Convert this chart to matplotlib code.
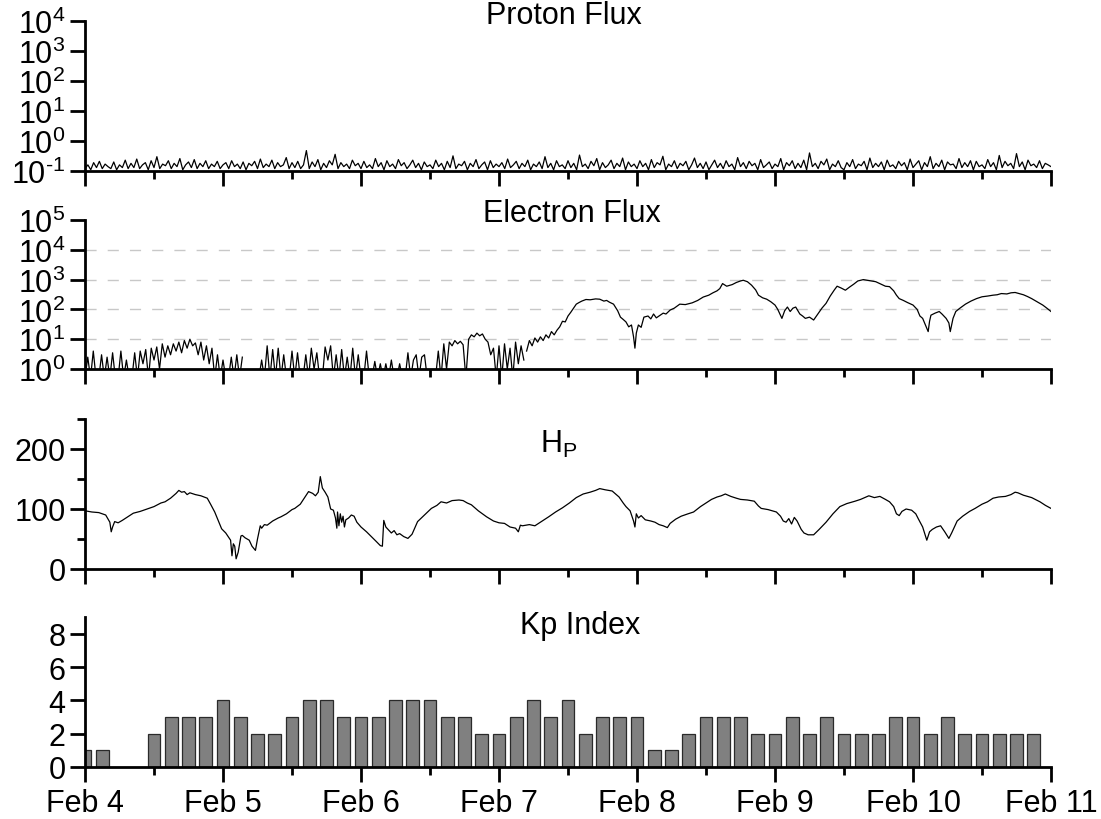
import numpy as np
import matplotlib
matplotlib.use("Agg")
import matplotlib.pyplot as plt
from matplotlib.ticker import LogLocator, FuncFormatter, MultipleLocator, FixedLocator, NullFormatter

plt.rcParams['font.family'] = ['Liberation Sans', 'DejaVu Sans']
plt.rcParams['mathtext.fontset'] = 'custom'
plt.rcParams['mathtext.rm'] = 'Liberation Sans'
plt.rcParams['mathtext.it'] = 'Liberation Sans:italic'
plt.rcParams['mathtext.bf'] = 'Liberation Sans:bold'
plt.rcParams['mathtext.sf'] = 'Liberation Sans'

# ---------------- data ----------------
day_labels = ["Feb 4", "Feb 5", "Feb 6", "Feb 7", "Feb 8", "Feb 9", "Feb 10", "Feb 11"]
panel_titles = ["Proton Flux", "Electron Flux", r"H$_\mathrm{P}$", "Kp Index"]

# proton flux, 30-min samples from Feb 4 00:00
proton_flux = [
    0.12,0.16,0.11,0.19,0.13,0.21,0.12,0.17,0.14,0.12,0.20,0.11,0.16,0.13,0.23,0.12,0.18,0.13,0.25,0.12,0.16,0.19,0.11,0.22,
    0.13,0.30,0.12,0.17,0.15,0.22,0.12,0.18,0.14,0.26,0.11,0.16,0.20,0.13,0.24,0.12,0.18,0.14,0.22,0.12,0.17,0.14,0.21,0.12,
    0.16,0.19,0.12,0.22,0.14,0.17,0.12,0.20,0.11,0.18,0.15,0.21,0.12,0.25,0.13,0.17,0.14,0.23,0.12,0.19,0.14,0.16,0.28,0.12,
    0.19,0.13,0.21,0.12,0.16,0.48,0.12,0.20,0.14,0.24,0.11,0.18,0.13,0.22,0.16,0.36,0.12,0.19,0.14,0.17,0.12,0.23,0.15,0.18,
    0.12,0.21,0.13,0.16,0.12,0.26,0.14,0.19,0.11,0.22,0.14,0.17,0.12,0.24,0.15,0.19,0.12,0.16,0.23,0.13,0.18,0.11,0.20,0.14,
    0.16,0.12,0.23,0.14,0.18,0.11,0.21,0.13,0.32,0.12,0.17,0.15,0.21,0.11,0.18,0.14,0.24,0.12,0.16,0.20,0.11,0.22,0.13,0.17,
    0.14,0.19,0.12,0.25,0.13,0.16,0.21,0.12,0.18,0.14,0.23,0.11,0.17,0.14,0.20,0.12,0.30,0.13,0.18,0.11,0.22,0.14,0.16,0.12,
    0.22,0.13,0.18,0.11,0.34,0.14,0.17,0.12,0.21,0.15,0.26,0.11,0.19,0.13,0.16,0.23,0.12,0.18,0.14,0.27,0.11,0.20,0.14,0.17,
    0.12,0.22,0.14,0.18,0.11,0.24,0.13,0.19,0.16,0.31,0.11,0.17,0.14,0.22,0.12,0.18,0.15,0.21,0.11,0.16,0.27,0.13,0.18,0.12,
    0.20,0.11,0.16,0.23,0.13,0.18,0.12,0.22,0.14,0.17,0.11,0.28,0.14,0.19,0.12,0.21,0.15,0.18,0.11,0.24,0.13,0.16,0.20,0.12,
    0.17,0.14,0.26,0.11,0.19,0.15,0.22,0.12,0.18,0.13,0.23,0.11,0.40,0.14,0.18,0.12,0.21,0.16,0.25,0.11,0.17,0.14,0.22,0.13,
    0.11,0.19,0.14,0.24,0.12,0.17,0.15,0.21,0.11,0.27,0.13,0.18,0.14,0.20,0.11,0.23,0.14,0.16,0.12,0.21,0.15,0.19,0.11,0.25,
    0.13,0.17,0.22,0.11,0.19,0.14,0.30,0.12,0.18,0.14,0.23,0.11,0.20,0.16,0.17,0.12,0.26,0.13,0.19,0.14,0.22,0.11,0.21,0.14,
    0.16,0.12,0.24,0.14,0.19,0.11,0.33,0.13,0.21,0.15,0.18,0.12,0.38,0.14,0.20,0.11,0.23,0.15,0.17,0.13,0.22,0.12,0.18,0.16,
    0.14]
proton_time = np.arange(len(proton_flux)) / 48.0

# electron flux, early noisy part (0.02-day samples, nan = no data)
nan = float('nan')
electron_early = [
    0.5,2.5,0.5,4.0,0.5,0.5,3.0,0.5,2.5,0.5,
    3.5,0.5,0.5,4.0,0.5,2.0,0.5,0.5,3.5,0.5,
    4.0,1.5,4.5,0.5,5.0,2.0,5.5,1.0,7.0,2.5,
    6.0,3.0,7.0,4.0,8.0,3.5,9.0,5.0,10.0,6.0,
    7.5,3.0,8.0,2.0,6.0,1.5,5.0,0.5,3.0,0.5,
    2.0,0.5,0.5,2.5,0.5,3.0,0.5,2.5,nan,nan,
    nan,nan,nan,0.5,2.0,0.5,6.0,0.5,4.5,0.5,
    5.0,0.5,3.0,0.5,0.5,4.0,0.5,3.5,0.5,0.5,
    3.0,0.5,5.0,1.0,3.5,0.5,0.5,5.5,2.0,6.0,
    0.5,3.0,0.5,4.5,0.5,2.5,0.5,5.0,0.5,3.0,
    0.5,0.5,4.0,0.5,0.5,1.8,0.5,1.5,0.5,1.5,
    0.5,2.0,0.5,0.5,1.5,0.5,0.5,3.5,0.5,2.0,
    3.0,0.5,2.5,3.0,0.5,0.5,0.5,0.5,4.0,0.5,
    7.0,1.0,8.0,6.0,9.0,7.0,8.5,6.5,0.5,10.0,
    14.0,12.0,16.0,13.0,15.0,10.0,8.0,3.0,5.0,0.5,
    6.0,0.5,7.0,1.0,5.0,0.5,8.0,1.5,6.0,2.0]
electron_early_time = np.arange(len(electron_early)) * 0.02

electron_late_time = [
    3.20,3.22,3.24,3.26,3.28,3.30,3.32,3.34,3.36,3.38,3.40,3.42,3.44,3.46,3.48,3.50,3.52,3.54,3.56,3.58,
    3.60,3.63,3.66,3.70,3.73,3.76,3.78,3.80,3.83,3.86,3.88,3.90,3.92,3.94,3.96,3.975,3.985,3.995,4.01,4.03,
    4.05,4.08,4.10,4.12,4.14,4.17,4.19,4.21,4.24,4.27,4.31,4.35,4.40,4.44,4.48,4.52,4.55,4.58,4.60,4.62,
    4.65,4.69,4.72,4.75,4.77,4.80,4.83,4.86,4.88,4.91,4.94,4.97,5.00,5.02,5.05,5.07,5.09,5.11,5.13,5.15,
    5.18,5.20,5.22,5.25,5.28,5.31,5.34,5.37,5.40,5.43,5.45,5.48,5.51,5.54,5.57,5.60,5.64,5.67,5.70,5.73,
    5.77,5.80,5.83,5.86,5.88,5.90,5.93,5.96,6.00,6.03,6.05,6.07,6.09,6.11,6.12,6.13,6.16,6.19,6.21,6.24,
    6.26,6.27,6.29,6.31,6.34,6.38,6.42,6.46,6.50,6.54,6.58,6.61,6.64,6.68,6.71,6.74,6.77,6.80,6.83,6.86,
    6.90,6.94,6.97,7.00]
electron_late = [
    4,9,6,11,8,12,9,14,11,18,14,20,26,40,38,60,80,110,150,170,
    190,215,210,225,220,190,200,175,150,90,55,46,38,26,30,12,5,16,30,25,
    55,60,48,70,52,65,75,70,95,110,150,145,166,200,260,300,360,420,500,735,
    600,680,800,900,950,850,650,450,300,245,220,180,140,100,50,90,120,85,110,120,
    70,60,50,55,44,70,110,160,280,450,600,520,440,560,700,900,1000,950,900,850,
    700,600,580,420,300,230,200,170,140,100,60,50,30,18,40,64,75,85,70,50,
    35,18,50,85,110,150,190,230,265,280,300,310,340,330,360,370,340,310,270,230,
    180,140,110,85]

# H_P
hp_time = [
    0.00,0.05,0.10,0.15,0.18,0.19,0.20,0.215,0.24,0.27,0.31,0.35,0.40,0.45,0.50,0.55,0.58,0.62,0.66,0.68,
    0.70,0.72,0.74,0.76,0.80,0.84,0.886,0.91,0.94,0.97,0.99,1.02,1.04,1.055,1.065,1.075,1.085,1.095,1.11,1.13,
    1.14,1.16,1.19,1.21,1.235,1.25,1.27,1.28,1.30,1.32,1.36,1.40,1.42,1.46,1.50,1.52,1.56,1.60,1.62,1.65,
    1.67,1.69,1.705,1.72,1.74,1.76,1.78,1.80,1.815,1.825,1.83,1.84,1.85,1.86,1.87,1.88,1.89,1.91,1.93,1.95,
    1.97,2.00,2.04,2.08,2.11,2.14,2.155,2.165,2.18,2.20,2.22,2.24,2.26,2.28,2.31,2.34,2.37,2.41,2.46,2.51,
    2.55,2.58,2.62,2.66,2.71,2.74,2.77,2.80,2.85,2.91,2.96,3.00,3.04,3.08,3.12,3.14,3.155,3.17,3.22,3.26,
    3.30,3.36,3.41,3.46,3.51,3.56,3.61,3.66,3.70,3.73,3.77,3.82,3.87,3.90,3.92,3.95,3.975,3.985,3.995,4.01,
    4.03,4.06,4.10,4.13,4.16,4.19,4.22,4.24,4.28,4.32,4.37,4.41,4.46,4.50,4.54,4.58,4.61,4.64,4.68,4.72,
    4.75,4.80,4.85,4.88,4.90,4.95,5.01,5.04,5.06,5.08,5.10,5.12,5.14,5.16,5.19,5.21,5.24,5.28,5.32,5.37,
    5.42,5.47,5.52,5.58,5.62,5.68,5.72,5.76,5.80,5.83,5.86,5.88,5.90,5.92,5.95,5.99,6.02,6.04,6.07,6.09,
    6.10,6.12,6.14,6.17,6.20,6.23,6.26,6.28,6.32,6.36,6.41,6.45,6.50,6.54,6.58,6.62,6.67,6.71,6.74,6.76,
    6.80,6.86,6.92,6.96,7.00]
hp_value = [
    97,95,94,90,78,62,70,79,77,81,87,93,96,100,104,110,112,118,126,131,
    128,129,124,127,124,122,118,108,95,78,67,60,53,48,22,42,38,17,28,55,
    56,52,48,38,31,50,72,68,74,73,80,85,87,92,99,101,108,122,129,126,
    122,128,154,135,128,120,100,98,85,68,95,72,92,78,88,70,82,85,90,88,
    78,70,62,53,46,39,38,81,70,65,60,64,57,59,54,51,58,79,90,101,
    106,112,110,114,115,114,110,107,97,87,80,77,76,70,68,62,73,72,74,72,
    78,87,95,102,110,119,125,128,131,134,132,130,120,110,104,97,80,70,92,85,
    89,82,80,78,74,72,69,76,83,88,92,95,104,110,116,120,122,125,121,118,
    116,115,113,105,101,99,95,88,80,78,84,75,86,80,66,60,57,57,66,78,
    92,104,109,113,116,122,119,121,116,112,104,92,89,96,100,98,92,83,70,55,
    48,62,66,70,72,62,51,60,80,88,96,101,108,112,118,120,121,124,128,127,
    123,119,112,106,101]

# Kp index, 3-hour intervals (nan = missing)
kp_index = [1,1,nan,nan,2,3,3,3,4,3,2,2,3,4,4,3,3,3,4,4,4,3,3,2,2,3,4,3,4,2,3,3,3,1,1,2,
            3,3,3,2,2,3,2,3,2,2,2,3,3,2,3,2,2,2,2,2]
kp_time = np.arange(len(kp_index)) * 0.125

# ---------------- figure ----------------
W, H = 1101, 820
fig = plt.figure(figsize=(W / 100, H / 100), dpi=100)

def px_axes(x0, y_top, x1, y_bot):
    return fig.add_axes([x0 / W, 1 - y_bot / H, (x1 - x0) / W, (y_bot - y_top) / H])

ax1 = px_axes(85, 22, 1051, 172)
ax2 = px_axes(85, 221, 1051, 370)
ax3 = px_axes(85, 420, 1051, 570)
ax4 = px_axes(85, 618, 1051, 768)

FS = 22

def pow10(v, pos):
    e = int(round(np.log10(v)))
    return r'$\mathregular{10}^{\text{%d}}$' % e

for ax in (ax1, ax2, ax3, ax4):
    ax.set_xlim(0, 7)
    for s in ('top', 'right'):
        ax.spines[s].set_visible(False)
    for s in ('left', 'bottom'):
        ax.spines[s].set_linewidth(2.0)
    ax.xaxis.set_major_locator(MultipleLocator(1))
    ax.xaxis.set_minor_locator(MultipleLocator(0.5))
    ax.tick_params(axis='both', which='major', direction='out', length=11, width=2,
                   labelsize=FS, pad=3)
    ax.tick_params(axis='x', which='minor', direction='out', length=6, width=2)
    ax.tick_params(axis='y', which='minor', direction='out', length=6, width=2)
    ax.tick_params(axis='x', which='both', top=False)
    ax.tick_params(axis='y', which='both', right=False)
    ax.set_xticklabels([])

# Panel 1: proton
ax1.plot(proton_time, proton_flux, color='black', lw=0.9)
ax1.set_yscale('log')
ax1.set_ylim(0.1, 1e4)
ax1.yaxis.set_major_locator(LogLocator(base=10, numticks=20))
ax1.yaxis.set_major_formatter(FuncFormatter(pow10))
ax1.yaxis.set_minor_locator(FixedLocator([]))
ax1.set_xticklabels([])

# Panel 2: electron
ax2.plot(electron_early_time, electron_early, color='black', lw=0.9)
ax2.plot(electron_late_time, electron_late, color='black', lw=0.9)
ax2.set_yscale('log')
ax2.set_ylim(1, 1e5)
ax2.yaxis.set_major_locator(LogLocator(base=10, numticks=20))
ax2.yaxis.set_major_formatter(FuncFormatter(pow10))
ax2.yaxis.set_minor_locator(FixedLocator([]))
for v in (1e1, 1e2, 1e3, 1e4):
    ax2.axhline(v, color='#c8c8c8', lw=1.0, dashes=(8, 8), zorder=0)
ax2.set_xticklabels([])

# Panel 3: H_P
ax3.plot(hp_time, hp_value, color='black', lw=0.9)
ax3.set_ylim(0, 250)
ax3.yaxis.set_major_locator(FixedLocator([0, 100, 200]))
ax3.yaxis.set_minor_locator(FixedLocator([50, 150, 250]))
ax3.yaxis.set_minor_formatter(NullFormatter())
ax3.set_xticklabels([])

# Panel 4: Kp
ax4.bar(kp_time, kp_index, width=0.094, color='#808080', edgecolor='#2a2a2a', linewidth=0.9)
ax4.set_ylim(0, 9)
ax4.yaxis.set_major_locator(FixedLocator([0, 2, 4, 6, 8]))
ax4.yaxis.set_minor_locator(FixedLocator([]))
ax4.set_xticks(range(len(day_labels)))
ax4.set_xticklabels(day_labels, fontsize=FS)
ax4.tick_params(axis='x', which='major', pad=4)

# titles (x centre, baseline y in pixels)
title_pos = [(564, 24), (572, 222), (559, 453), (580, 634)]
for t, (x, y) in zip(panel_titles, title_pos):
    fig.text(x / W, 1 - y / H, t, ha='center', va='baseline', fontsize=FS)

fig.savefig('out.png', dpi=100)
